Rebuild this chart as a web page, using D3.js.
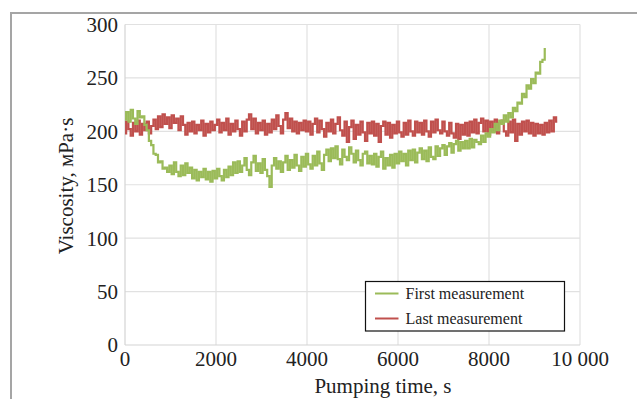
<!DOCTYPE html>
<html>
<head>
<meta charset="utf-8">
<script src="https://cdn.jsdelivr.net/npm/d3@7"></script>
<style>
  body { margin: 0; background: #fff; }
</style>
</head>
<body>
<div id="viscChart"></div>
<script>
const timeStep = 50;

const firstMeasurement = [
  211, 218, 209, 220, 212, 207, 219, 213, 214, 206,
  201, 191, 187, 179, 178, 171, 172, 165, 166, 162,
  168, 160, 171, 162, 158, 168, 159, 170, 161, 166,
  156, 164, 154, 162, 157, 165, 155, 162, 153, 163,
  156, 165, 158, 154, 164, 157, 167, 159, 171, 161,
  172, 162, 168, 175, 164, 159, 171, 177, 163, 170,
  161, 174, 164, 158, 148, 168, 175, 165, 172, 162,
  171, 177, 164, 173, 166, 178, 168, 163, 176, 167,
  179, 169, 165, 177, 168, 181, 170, 164, 178, 183,
  172, 184, 175, 186, 174, 169, 183, 176, 173, 185,
  179, 171, 182, 173, 168, 179, 181, 170, 177, 169,
  179, 167, 176, 181, 165, 175, 168, 178, 166, 179,
  170, 181, 172, 179, 168, 182, 173, 183, 171, 180,
  184, 174, 182, 172, 185, 176, 174, 186, 177, 184,
  187, 178, 186, 189, 180, 188, 191, 182, 190, 184,
  191, 184, 193, 185, 192, 190, 188, 196, 190, 198,
  195, 202, 199, 207, 201, 210, 207, 215, 209, 217,
  213, 222, 219, 227, 226, 235, 232, 243, 240, 249,
  245, 255, 254, 265, 267, 277
];

const lastMeasurement = [
  198, 209, 202, 196, 208, 200, 210, 197, 207, 201,
  209, 198, 205, 211, 202, 214, 204, 216, 207, 213,
  203, 215, 208, 212, 201, 214, 206, 197, 208, 200,
  209, 198, 206, 201, 210, 196, 207, 199, 209, 201,
  206, 211, 199, 208, 201, 212, 197, 207, 200, 210,
  202, 196, 209, 200, 211, 216, 202, 212, 198, 208,
  201, 210, 197, 207, 199, 211, 202, 215, 205, 198,
  211, 217, 203, 212, 200, 209, 198, 208, 201, 210,
  200, 209, 197, 207, 212, 199, 210, 202, 195, 208,
  200, 211, 198, 207, 213, 201, 196, 209, 190, 204,
  210, 193, 206, 197, 209, 199, 191, 208, 198, 209,
  196, 207, 190, 205, 209, 197, 208, 194, 206, 198,
  209, 199, 195, 208, 197, 210, 200, 196, 209, 199,
  208, 197, 210, 200, 195, 209, 199, 211, 201, 198,
  209, 200, 196, 208, 198, 194, 207, 193, 206, 197,
  208, 196, 209, 199, 211, 198, 208, 212, 200, 210,
  197, 209, 200, 211, 198, 208, 210, 200, 196, 209,
  199, 211, 191, 207, 197, 209, 200, 210, 198, 208,
  196, 207, 198, 206, 197, 208, 199, 210, 200, 213,
  209
];

const xTicks = [0, 2000, 4000, 6000, 8000, 10000];
const yTicks = [0, 50, 100, 150, 200, 250, 300];
const seriesNames = ["First measurement", "Last measurement"];
const seriesColors = ["#9bbb59", "#c0504d"];

/**************************************************************************************************/
const width = 637, height = 399;
const margin = {top: 24.5, left: 125, right: 57, bottom: 54};
const serif = "'Liberation Serif', 'Times New Roman', serif";

const x = d3.scaleLinear([0, 10000], [margin.left, width - margin.right]);
const y = d3.scaleLinear([0, 300], [height - margin.bottom, margin.top]);

const svg = d3.create("svg")
  .attr("width", width)
  .attr("height", height)
  .attr("viewBox", [0, 0, width, height])
  .style("display", "block")
  .style("background", "#fff")
  .attr("font-family", serif);

// outer frame (runs off the right and bottom edges)
svg.append("rect")
  .attr("x", 11)
  .attr("y", 13)
  .attr("width", 700)
  .attr("height", 500)
  .attr("fill", "none")
  .attr("stroke", "#a5a5a5")
  .attr("stroke-width", 2);

/********************************************************************************************/
// grid
svg.append("g")
  .selectAll("line")
  .data(xTicks.slice(1))
  .join("line")
  .attr("x1", d => x(d)).attr("x2", d => x(d))
  .attr("y1", y(0)).attr("y2", y(300))
  .attr("stroke", "#e1e1e1")
  .attr("stroke-width", 1.2);

svg.append("g")
  .selectAll("line")
  .data(yTicks.slice(1))
  .join("line")
  .attr("x1", x(0)).attr("x2", x(10000))
  .attr("y1", d => y(d)).attr("y2", d => y(d))
  .attr("stroke", "#e1e1e1")
  .attr("stroke-width", 1.2);

// axis lines
svg.append("line")
  .attr("x1", x(0)).attr("x2", x(10000))
  .attr("y1", y(0)).attr("y2", y(0))
  .attr("stroke", "#d4d4d4").attr("stroke-width", 1.2);
svg.append("line")
  .attr("x1", x(0)).attr("x2", x(0))
  .attr("y1", y(0)).attr("y2", y(300))
  .attr("stroke", "#d4d4d4").attr("stroke-width", 1.2);

/********************************************************************************************/
// tick labels
svg.append("g")
  .selectAll("text")
  .data(yTicks)
  .join("text")
  .attr("x", margin.left - 7)
  .attr("y", d => y(d))
  .attr("dy", "0.35em")
  .attr("text-anchor", "end")
  .attr("font-size", 21)
  .attr("fill", "#222")
  .text(d => d);

svg.append("g")
  .selectAll("text")
  .data(xTicks)
  .join("text")
  .attr("x", d => x(d))
  .attr("y", 366)
  .attr("text-anchor", "middle")
  .attr("font-size", 21)
  .attr("fill", "#222")
  .text(d => d === 10000 ? "10\u00a0000" : d);

// axis titles
svg.append("text")
  .attr("transform", `translate(73, 186) rotate(-90)`)
  .attr("text-anchor", "middle")
  .attr("font-size", 21)
  .attr("fill", "#222")
  .text("Viscosity, мPa·s");

svg.append("text")
  .attr("x", 383)
  .attr("y", 393)
  .attr("text-anchor", "middle")
  .attr("font-size", 21)
  .attr("fill", "#222")
  .text("Pumping time, s");

/********************************************************************************************/
// series
const line = d3.line()
  .x((d, i) => x(i * timeStep))
  .y(d => y(d))
  .curve(d3.curveStep);

[lastMeasurement, firstMeasurement].forEach((values, k) => {
  svg.append("path")
    .datum(values)
    .attr("fill", "none")
    .attr("stroke", k === 0 ? seriesColors[1] : seriesColors[0])
    .attr("stroke-width", 2.2)
    .attr("stroke-linejoin", "miter")
    .attr("d", line);
});

/********************************************************************************************/
// legend
const legend = svg.append("g").attr("transform", "translate(365.5, 281.5)");
legend.append("rect")
  .attr("width", 199)
  .attr("height", 49.5)
  .attr("fill", "#fff")
  .attr("stroke", "#111")
  .attr("stroke-width", 1.2);

seriesNames.forEach((name, i) => {
  const g = legend.append("g").attr("transform", `translate(0, ${12 + i * 25})`);
  g.append("line")
    .attr("x1", 9.5).attr("x2", 33)
    .attr("stroke", seriesColors[i])
    .attr("stroke-width", 2);
  g.append("text")
    .attr("x", 40)
    .attr("dy", "0.33em")
    .attr("font-size", 16)
    .attr("fill", "#222")
    .text(name);
});

document.getElementById("viscChart").appendChild(svg.node());
</script>
</body>
</html>
